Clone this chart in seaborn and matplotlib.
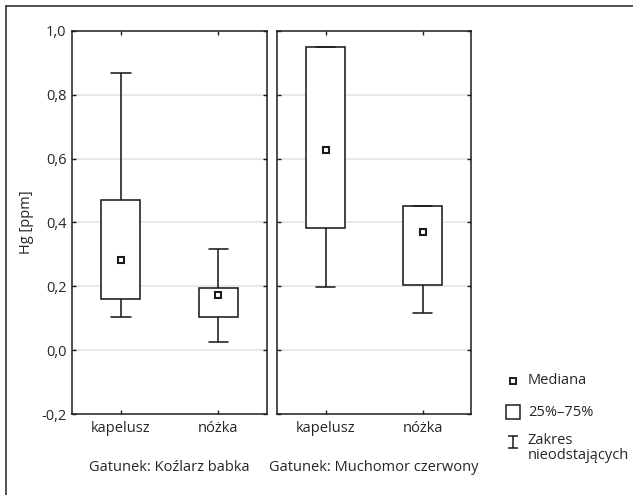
import numpy as np
import pandas as pd
import matplotlib
matplotlib.use("Agg")
import matplotlib.pyplot as plt
from matplotlib.lines import Line2D
from matplotlib.path import Path
import seaborn as sns

# ---- data (five-number summaries) ----
parts = ["kapelusz", "nóżka"]
species = ["Koźlarz babka", "Muchomor czerwony"]
# [min, q1, median, q3, max]
kozlarz_kapelusz = [0.103, 0.159, 0.283, 0.470, 0.867]
kozlarz_nozka = [0.027, 0.104, 0.172, 0.195, 0.316]
muchomor_kapelusz = [0.199, 0.382, 0.627, 0.951, 0.951]
muchomor_nozka = [0.116, 0.204, 0.369, 0.451, 0.451]
y_ticks = [-0.2, 0.0, 0.2, 0.4, 0.6, 0.8, 1.0]
y_tick_labels = ["-0,2", "0,0", "0,2", "0,4", "0,6", "0,8", "1,0"]
legend_labels = ["Mediana", "25%–75%", "Zakres\nnieodstających"]

FS = 10.5
sns.set_style("white")
plt.rcParams["font.family"] = ["Open Sans", "DejaVu Sans"]
plt.rcParams["font.size"] = FS

rows = []
for sp, (a, b) in zip(species, [(kozlarz_kapelusz, kozlarz_nozka),
                                 (muchomor_kapelusz, muchomor_nozka)]):
    for part, vals in zip(parts, (a, b)):
        for v in vals:
            rows.append({"species": sp, "part": part, "value": v})
df = pd.DataFrame(rows)

W, H = 633, 495
fig = plt.figure(figsize=(W / 100, H / 100), dpi=100)
fig.patch.set_facecolor("white")

def fx(px):
    return px / W

def fy(py):
    return 1 - py / H

ax1 = fig.add_axes([fx(72), fy(414), fx(267) - fx(72), fy(31) - fy(414)])
ax2 = fig.add_axes([fx(277), fy(414), fx(471) - fx(277), fy(31) - fy(414)])

edge = "#1c1c1c"
lw = 1.15
for ax, sp in zip([ax1, ax2], species):
    sub = df[df["species"] == sp]
    ax.yaxis.grid(True, color="#e3e3e3", linewidth=1.1, zorder=0)
    ax.set_axisbelow(True)
    sns.boxplot(data=sub, x="part", y="value", order=parts, ax=ax,
                whis=(0, 100), width=0.4, color="white", linecolor=edge,
                linewidth=lw, showfliers=False,
                medianprops={"visible": False})
    sns.pointplot(data=sub, x="part", y="value", order=parts, ax=ax,
                  estimator="median", errorbar=None, marker="s",
                  linestyle="none", color=edge, markersize=5,
                  markerfacecolor="white", markeredgecolor=edge,
                  markeredgewidth=1.5)
    ax.set_xlim(-0.5, 1.5)
    ax.set_ylim(-0.2, 1.0)
    ax.set_yticks(y_ticks)
    ax.set_xlabel("Gatunek: " + sp, labelpad=17)
    ax.set_ylabel("")
    for s in ax.spines.values():
        s.set_visible(True)
        s.set_color(edge)
        s.set_linewidth(1.1)
    ax.tick_params(direction="in", length=3, width=1, color=edge,
                   top=True, right=True, left=True, bottom=True)
    ax.tick_params(axis="x", pad=5)
    ax.tick_params(axis="y", pad=4)

ax1.set_yticklabels(y_tick_labels)
ax2.set_yticklabels([])
ax1.set_ylabel("Hg [ppm]", labelpad=5)
# hide gridlines at the extremes
for ax in (ax1, ax2):
    for gl, t in zip(ax.yaxis.get_gridlines(), y_ticks):
        if t in (-0.2, 1.0):
            gl.set_visible(False)

# outer frame (left and top)
fig.add_artist(Line2D([fx(6), fx(6)], [fy(6), 0], transform=fig.transFigure,
                      color="#333333", linewidth=1.2))
fig.add_artist(Line2D([fx(6), 1], [fy(6), fy(6)], transform=fig.transFigure,
                      color="#333333", linewidth=1.2))

# legend
whisk = Path([(-0.85, -1), (0.85, -1), (0, -1), (0, 1), (-0.85, 1), (0.85, 1)],
             [Path.MOVETO, Path.LINETO, Path.MOVETO, Path.LINETO,
              Path.MOVETO, Path.LINETO])
legend_items = [("s", 4.5, 1.4, 381), ("s", 9.5, 1.1, 412), (whisk, 9, 1.1, 442)]
for (mk, ms, mew, ypx), lab in zip(legend_items, legend_labels):
    fig.add_artist(Line2D([fx(513)], [fy(ypx)], transform=fig.transFigure,
                          marker=mk, markersize=ms, markeredgewidth=mew,
                          markerfacecolor="white", markeredgecolor=edge,
                          linestyle="none"))
    if "\n" in lab:
        fig.text(fx(528), fy(ypx - 9), lab, ha="left", va="top",
                 fontsize=FS, linespacing=1.0)
    else:
        fig.text(fx(528), fy(ypx), lab, ha="left", va="center", fontsize=FS)

fig.savefig("out.png", dpi=100, facecolor="white")
